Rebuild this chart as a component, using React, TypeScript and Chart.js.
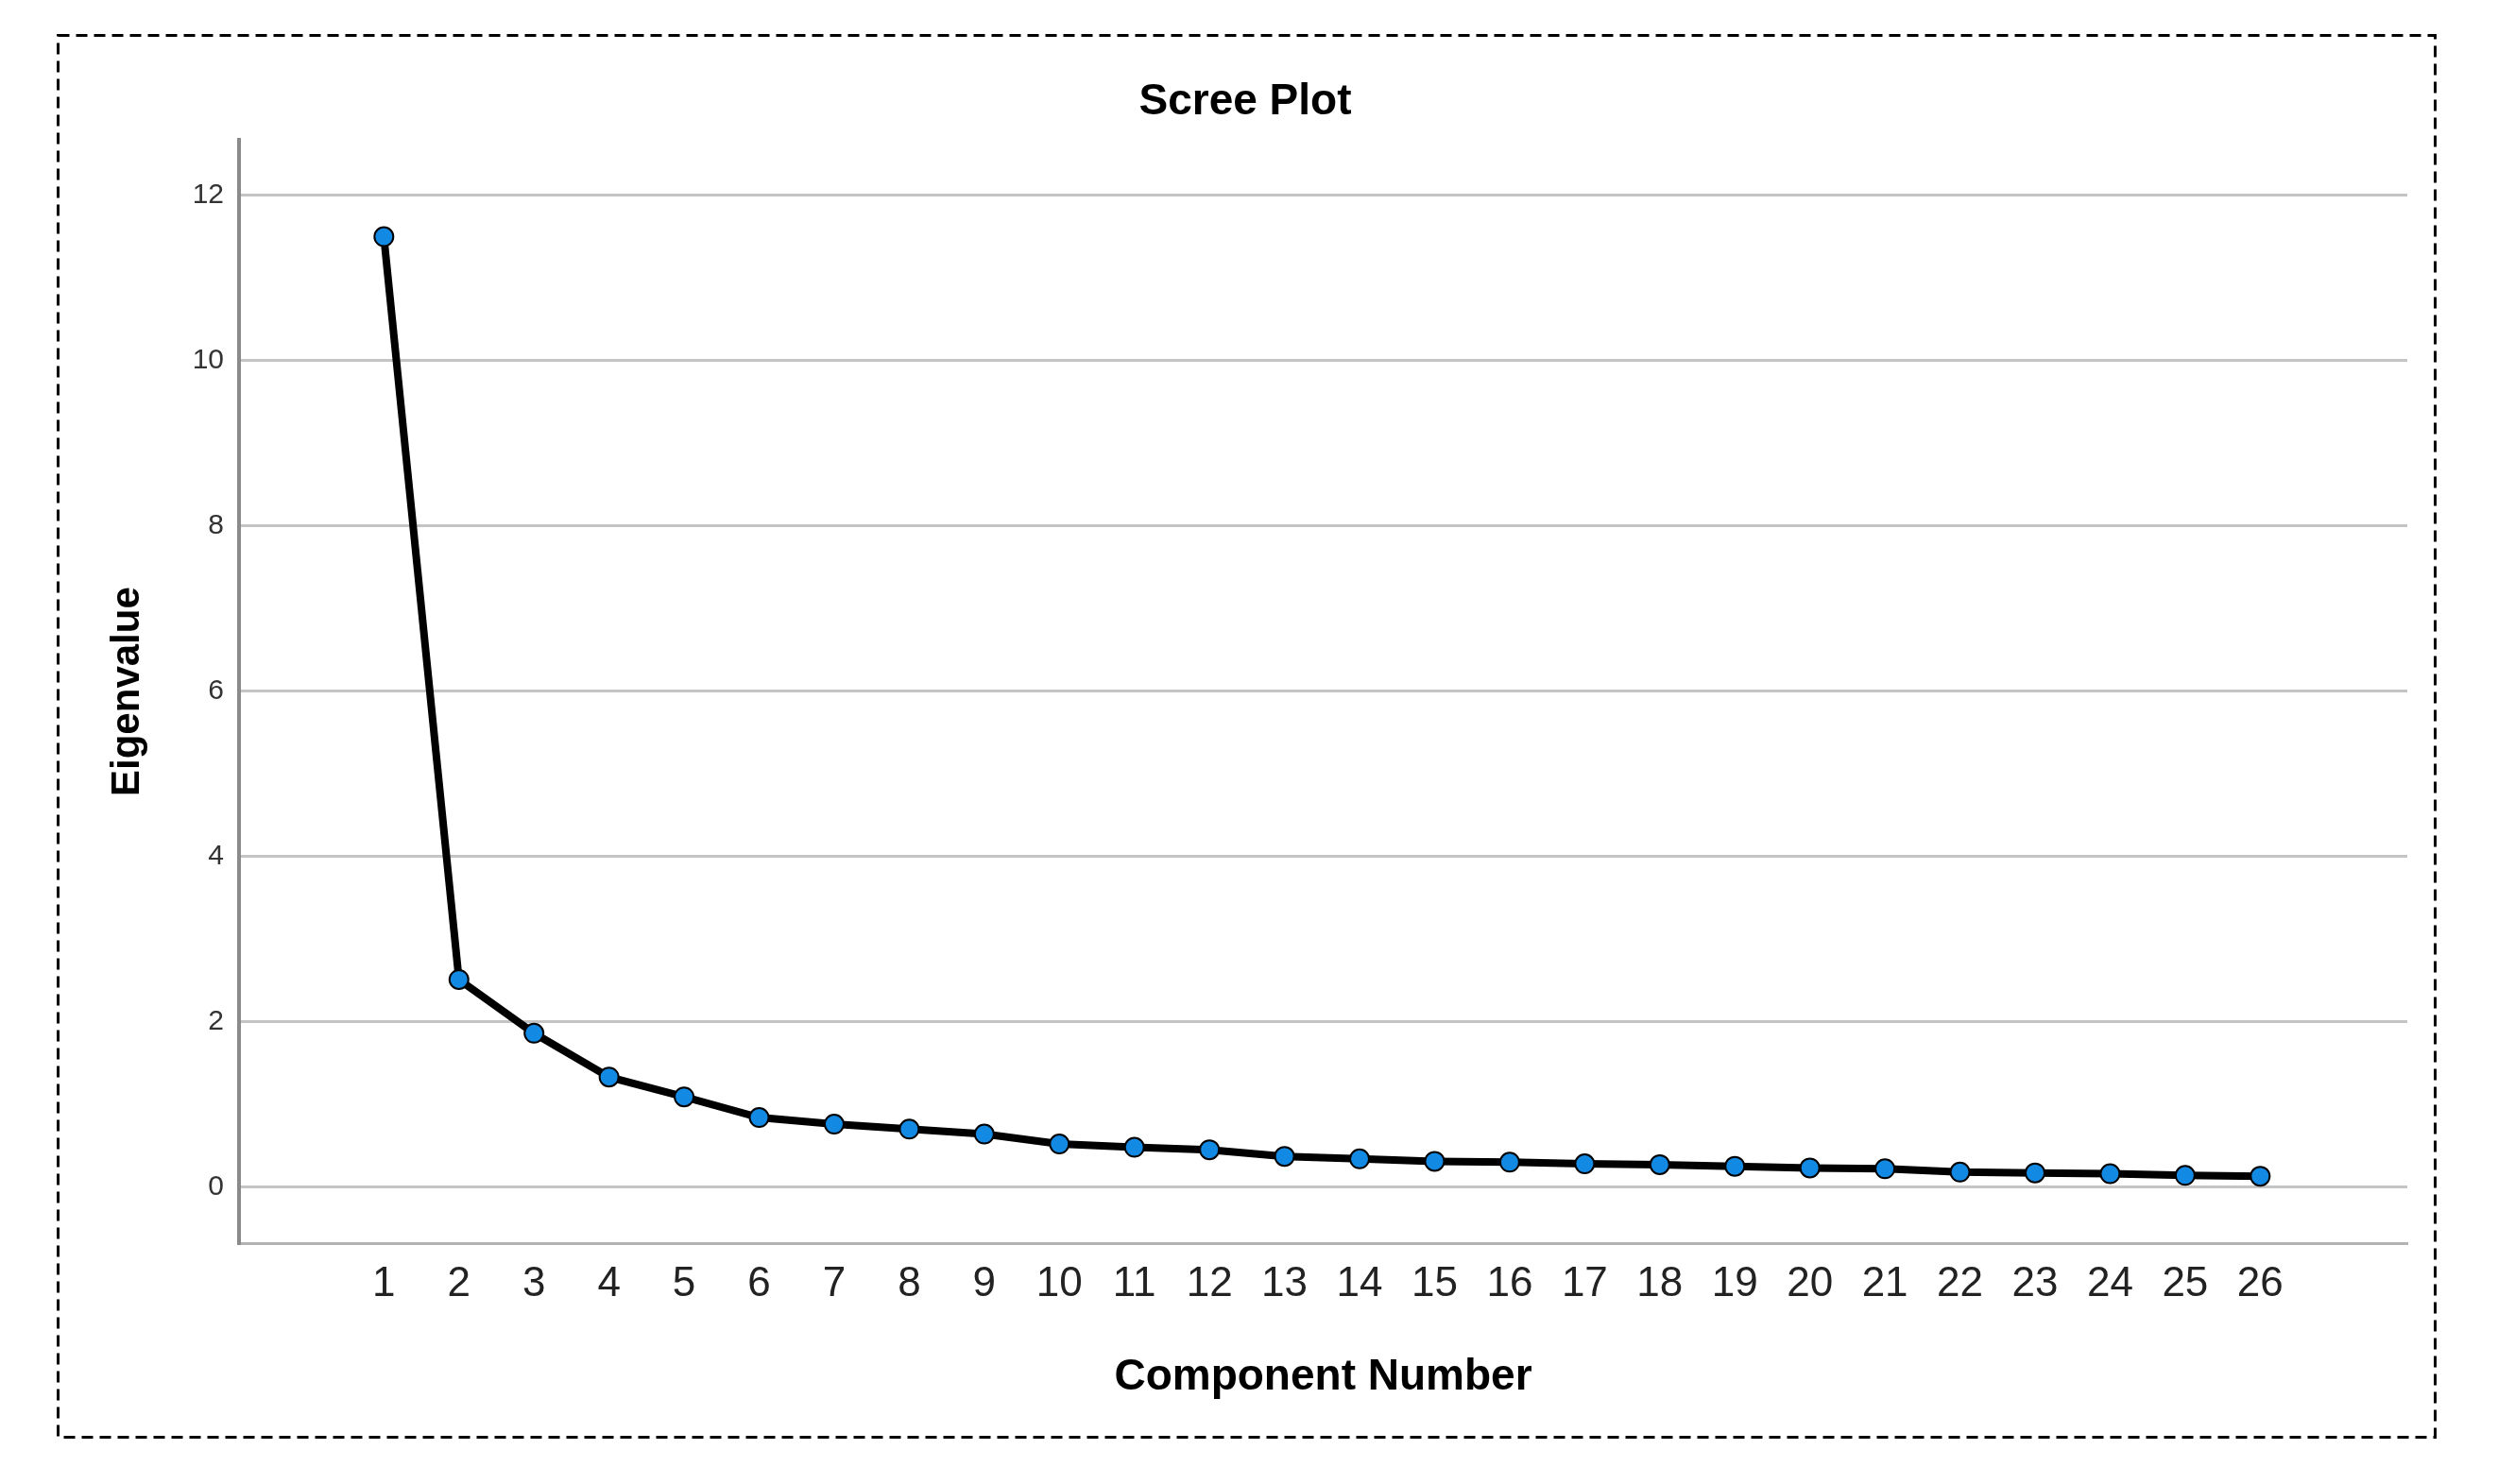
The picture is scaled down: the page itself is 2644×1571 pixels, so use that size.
import React, { useEffect, useRef } from "react";
import { Chart, registerables } from "chart.js";

Chart.register(...registerables);

const components: number[] = [1, 2, 3, 4, 5, 6, 7, 8, 9, 10, 11, 12, 13, 14, 15, 16, 17, 18, 19, 20, 21, 22, 23, 24, 25, 26];
const eigenvalues: number[] = [11.5, 2.51, 1.86, 1.33, 1.09, 0.84, 0.76, 0.7, 0.64, 0.52, 0.48, 0.45, 0.37, 0.34, 0.31, 0.3, 0.28, 0.27, 0.25, 0.23, 0.22, 0.18, 0.17, 0.16, 0.14, 0.13];
const xTickValues: number[] = components;
const yTickValues: number[] = [0, 2, 4, 6, 8, 10, 12];

const chartTitle = "Scree Plot";
const xTitle = "Component Number";
const yTitle = "Eigenvalue";

const FONT = "'Liberation Sans', Arial, Helvetica, sans-serif";

const framePlugin = {
  id: "frame",
  beforeDraw(chart: any) {
    const ctx = chart.ctx;
    ctx.save();
    ctx.fillStyle = "#ffffff";
    ctx.fillRect(0, 0, chart.width, chart.height);
    ctx.setLineDash([12, 7]);
    ctx.lineWidth = 3;
    ctx.strokeStyle = "#000000";
    ctx.strokeRect(61.5, 37.5, 2516, 1484);
    ctx.restore();
  },
};

export default function App() {
  const canvasRef = useRef<HTMLCanvasElement | null>(null);

  useEffect(() => {
    const canvas = canvasRef.current;
    if (!canvas) return;
    const chart = new Chart(canvas, {
      type: "line",
      data: {
        datasets: [
          {
            data: components.map((c, i) => ({ x: c, y: eigenvalues[i] })),
            borderColor: "#000000",
            borderWidth: 8,
            tension: 0,
            pointRadius: 10,
            pointHoverRadius: 10,
            pointBackgroundColor: "#1289e3",
            pointBorderColor: "#000000",
            pointBorderWidth: 2,
            fill: false,
          },
        ],
      },
      options: {
        responsive: false,
        animation: false,
        devicePixelRatio: 1,
        layout: { padding: { left: 88, right: 96, top: 0, bottom: 0 } },
        plugins: {
          legend: { display: false },
          tooltip: { enabled: false },
          title: {
            display: true,
            text: chartTitle,
            color: "#000000",
            font: { family: FONT, size: 46, weight: "bold" },
            padding: { top: 81, bottom: 12 },
          },
        },
        scales: {
          x: {
            type: "linear",
            min: -0.93,
            max: 27.96,
            afterBuildTicks: (scale: any) => {
              scale.ticks = xTickValues.map((v) => ({ value: v }));
            },
            afterFit: (scale: any) => {
              scale.height = 255;
            },
            grid: { display: false, drawTicks: false },
            border: { display: true, color: "#b3b3b3", width: 3 },
            ticks: {
              autoSkip: false,
              maxRotation: 0,
              minRotation: 0,
              padding: 17,
              color: "#222222",
              font: { family: FONT, size: 44 },
              callback: (v: any) => String(v),
            },
            title: {
              display: true,
              text: xTitle,
              color: "#000000",
              font: { family: FONT, size: 46, weight: "bold" },
              padding: { top: 0, bottom: 85 },
            },
          },
          y: {
            type: "linear",
            min: -0.68,
            max: 12.67,
            afterBuildTicks: (scale: any) => {
              scale.ticks = yTickValues.map((v) => ({ value: v }));
            },
            afterFit: (scale: any) => {
              scale.width = 165;
            },
            grid: { display: true, drawTicks: false, color: "#c4c4c4", lineWidth: 3 },
            border: { display: true, color: "#8a8a8a", width: 4 },
            ticks: {
              padding: 16,
              color: "#333333",
              font: { family: FONT, size: 30 },
              callback: (v: any) => String(v),
            },
            title: {
              display: true,
              text: yTitle,
              color: "#000000",
              font: { family: FONT, size: 42, weight: "bold" },
              padding: { top: 22, bottom: 0 },
            },
          },
        },
      },
      plugins: [framePlugin],
    } as any);
    return () => chart.destroy();
  }, []);

  return (
    <div style={{ position: "absolute", left: 0, top: 0, width: 2644, height: 1571, overflow: "hidden" }}>
      <canvas ref={canvasRef} width={2644} height={1571} style={{ display: "block", width: 2644, height: 1571 }} />
    </div>
  );
}
